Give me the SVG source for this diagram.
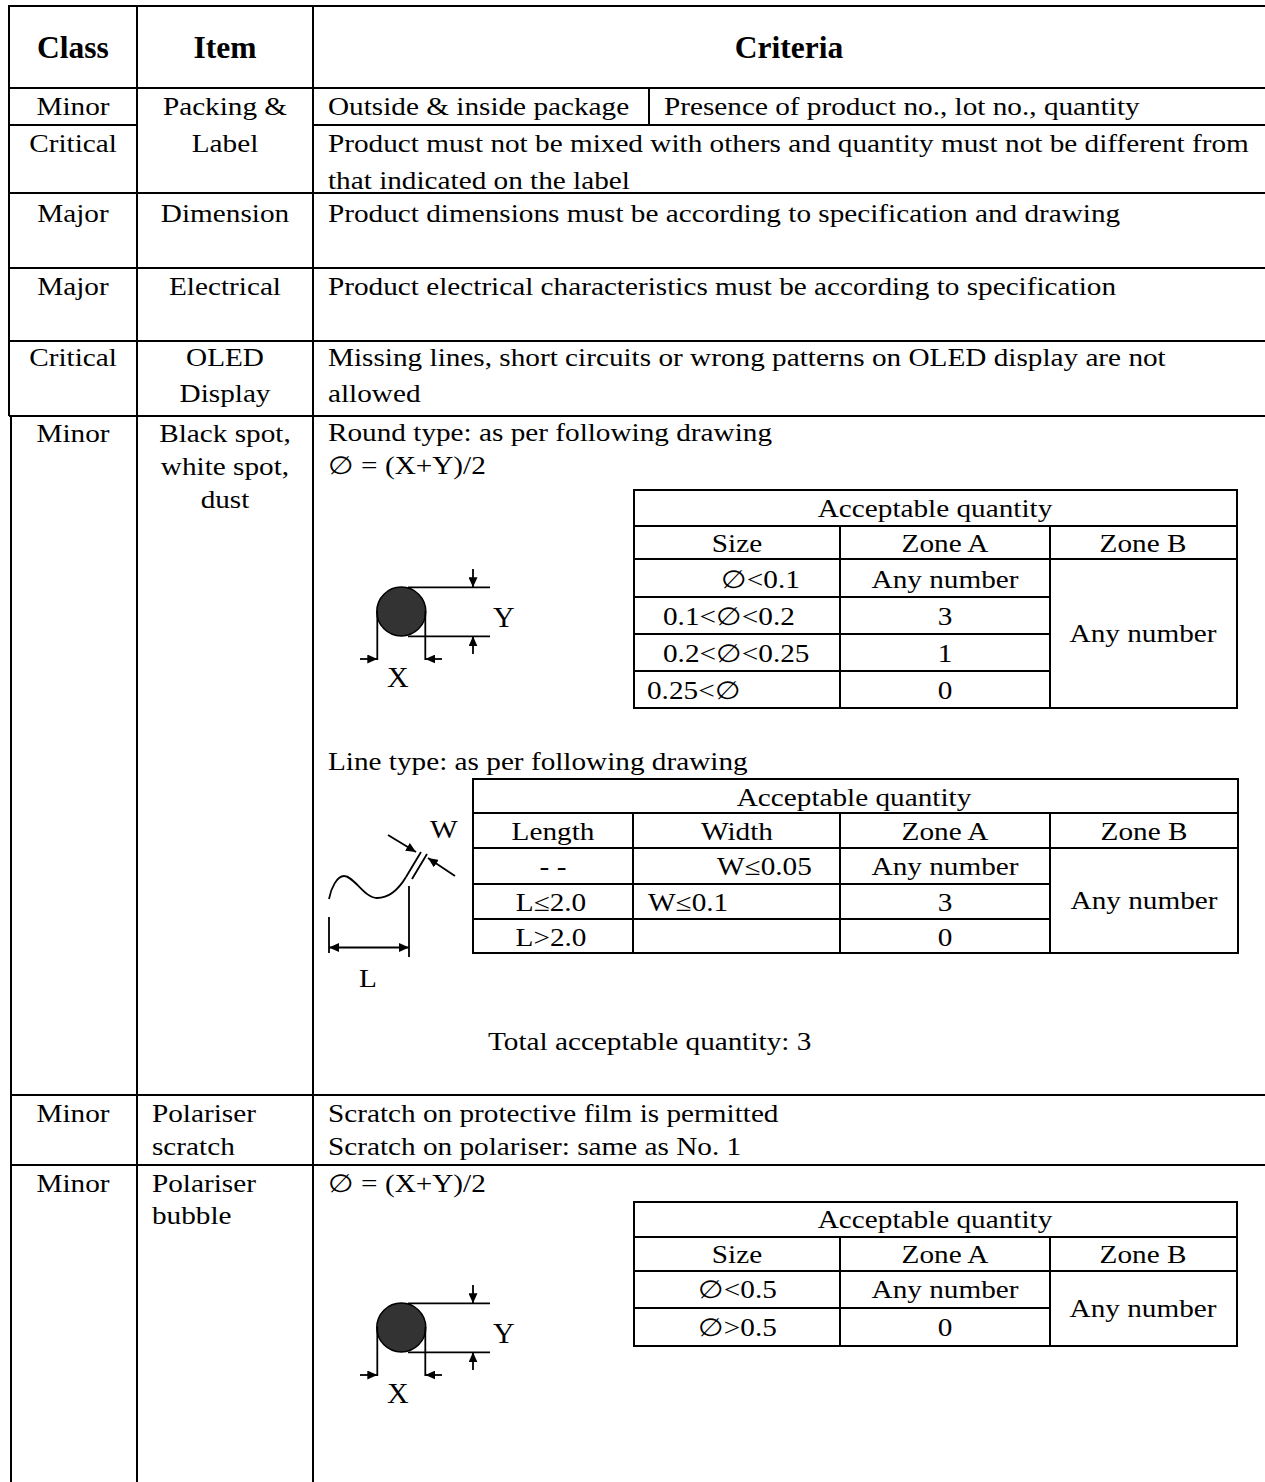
<svg xmlns="http://www.w3.org/2000/svg" width="1265" height="1482" viewBox="0 0 1265 1482">
<style>
.g{stroke:#000;stroke-width:2;fill:none}
.d{stroke:#000;stroke-width:1.8;fill:none}
.t{font-family:"Liberation Serif","Times New Roman",serif;font-size:25px;fill:#000}
.m{text-anchor:middle}
.h{font-family:"Liberation Serif","Times New Roman",serif;font-size:31.5px;font-weight:bold;fill:#000;text-anchor:middle}
.xy{font-family:"Liberation Serif","Times New Roman",serif;font-size:30px;fill:#000}
.dot{fill:#333;stroke:#000;stroke-width:1.5}
</style>
<defs>
<marker id="ah" markerUnits="userSpaceOnUse" markerWidth="12" markerHeight="9" refX="10" refY="4.5" orient="auto-start-reverse">
<path d="M0,0 L10,4.5 L0,9 Z" fill="#000"/>
</marker>
</defs>
<rect width="1265" height="1482" fill="#fff"/>

<g id="grid" class="g">
<path d="M9,6 H1265 M9,88 H1265 M9,125 H137 M313,125 H1265 M9,193 H1265 M9,268 H1265 M9,341 H1265 M9,416 H1265 M11,1095 H1265 M11,1165 H1265"/>
<path d="M9,5 V416 M11,416 V1482 M137,6 V1482 M313,6 V1482 M649,88 V125"/>
</g>

<g id="header">
<text class="h" x="73" y="58">Class</text>
<text class="h" x="225" y="58">Item</text>
<text class="h" x="789" y="58">Criteria</text>
</g>

<g id="row-packing">
<text class="t m" transform="translate(73,115) scale(1.17,1)">Minor</text>
<text class="t m" transform="translate(73,152) scale(1.17,1)">Critical</text>
<text class="t m" transform="translate(225,115) scale(1.17,1)">Packing &amp;</text>
<text class="t m" transform="translate(225,152) scale(1.17,1)">Label</text>
<text class="t" transform="translate(328,115) scale(1.17,1)">Outside &amp; inside package</text>
<text class="t" transform="translate(664,115) scale(1.17,1)">Presence of product no., lot no., quantity</text>
<text class="t" transform="translate(328,152) scale(1.17,1)">Product must not be mixed with others and quantity must not be different from</text>
<text class="t" transform="translate(328,189) scale(1.17,1)">that indicated on the label</text>
</g>

<g id="row-dimension">
<text class="t m" transform="translate(73,222) scale(1.17,1)">Major</text>
<text class="t m" transform="translate(225,222) scale(1.17,1)">Dimension</text>
<text class="t" transform="translate(328,222) scale(1.17,1)">Product dimensions must be according to specification and drawing</text>
</g>

<g id="row-electrical">
<text class="t m" transform="translate(73,295) scale(1.17,1)">Major</text>
<text class="t m" transform="translate(225,295) scale(1.17,1)">Electrical</text>
<text class="t" transform="translate(328,295) scale(1.17,1)">Product electrical characteristics must be according to specification</text>
</g>

<g id="row-oled">
<text class="t m" transform="translate(73,366) scale(1.17,1)">Critical</text>
<text class="t m" transform="translate(225,366) scale(1.17,1)">OLED</text>
<text class="t m" transform="translate(225,402) scale(1.17,1)">Display</text>
<text class="t" transform="translate(328,366) scale(1.17,1)">Missing lines, short circuits or wrong patterns on OLED display are not</text>
<text class="t" transform="translate(328,402) scale(1.17,1)">allowed</text>
</g>

<g id="row-spot">
<text class="t m" transform="translate(73,442) scale(1.17,1)">Minor</text>
<text class="t m" transform="translate(225,442) scale(1.17,1)">Black spot,</text>
<text class="t m" transform="translate(225,475) scale(1.17,1)">white spot,</text>
<text class="t m" transform="translate(225,508) scale(1.17,1)">dust</text>
<text class="t" transform="translate(328,441) scale(1.17,1)">Round type: as per following drawing</text>
<text class="t" transform="translate(328,474) scale(1.17,1)">∅ = (X+Y)/2</text>
<text class="t" transform="translate(328,770) scale(1.17,1)">Line type: as per following drawing</text>
<text class="t" transform="translate(488,1050) scale(1.17,1)">Total acceptable quantity: 3</text>
</g>

<g id="table-round">
<path class="g" d="M634,490 H1237 V708 H634 Z M634,526 H1237 M634,559 H1237 M634,597 H1050 M634,634 H1050 M634,671 H1050 M840,526 V708 M1050,526 V708"/>
<text class="t m" transform="translate(935,517) scale(1.17,1)">Acceptable quantity</text>
<text class="t m" transform="translate(737,552) scale(1.17,1)">Size</text>
<text class="t m" transform="translate(945,552) scale(1.17,1)">Zone A</text>
<text class="t m" transform="translate(1143,552) scale(1.17,1)">Zone B</text>
<text class="t" transform="translate(721,588) scale(1.17,1)">∅&lt;0.1</text>
<text class="t m" transform="translate(945,588) scale(1.17,1)">Any number</text>
<text class="t" transform="translate(663,625) scale(1.17,1)">0.1&lt;∅&lt;0.2</text>
<text class="t m" transform="translate(945,625) scale(1.17,1)">3</text>
<text class="t" transform="translate(663,662) scale(1.17,1)">0.2&lt;∅&lt;0.25</text>
<text class="t m" transform="translate(945,662) scale(1.17,1)">1</text>
<text class="t" transform="translate(647,699) scale(1.17,1)">0.25&lt;∅</text>
<text class="t m" transform="translate(945,699) scale(1.17,1)">0</text>
<text class="t m" transform="translate(1143,642) scale(1.17,1)">Any number</text>
</g>

<g id="drawing-round">
<circle class="dot" cx="401.3" cy="611.5" r="24.5"/>
<path class="d" d="M408,587.3 H490 M408,636.3 H490 M377.3,611 V660 M425.3,611 V660"/>
<text class="xy" x="493" y="627">Y</text>
<text class="xy" x="387" y="687">X</text>
</g>

<g id="table-line">
<path class="g" d="M473,779 H1238 V953 H473 Z M473,813 H1238 M473,848 H1238 M473,884 H1050 M473,919 H1050 M633,813 V953 M840,813 V953 M1050,813 V953"/>
<text class="t m" transform="translate(854,806) scale(1.17,1)">Acceptable quantity</text>
<text class="t m" transform="translate(553,840) scale(1.17,1)">Length</text>
<text class="t m" transform="translate(737,840) scale(1.17,1)">Width</text>
<text class="t m" transform="translate(945,840) scale(1.17,1)">Zone A</text>
<text class="t m" transform="translate(1144,840) scale(1.17,1)">Zone B</text>
<text class="t m" transform="translate(553,875) scale(1.17,1)">- -</text>
<text class="t" transform="translate(717,875) scale(1.17,1)">W≤0.05</text>
<text class="t m" transform="translate(945,875) scale(1.17,1)">Any number</text>
<text class="t m" transform="translate(551,911) scale(1.17,1)">L≤2.0</text>
<text class="t" transform="translate(648,911) scale(1.17,1)">W≤0.1</text>
<text class="t m" transform="translate(945,911) scale(1.17,1)">3</text>
<text class="t m" transform="translate(551,946) scale(1.17,1)">L&gt;2.0</text>
<text class="t m" transform="translate(945,946) scale(1.17,1)">0</text>
<text class="t m" transform="translate(1144,909) scale(1.17,1)">Any number</text>
</g>

<g id="drawing-line">
<path class="d" d="M329,899 C331,888 337,876 344,876 C354,876 364,898 377,898 C390,898 400,887 406,877"/>
<path class="d" d="M406,877 L421,852 M412,879 L427,854 M329,917 V953 M409,886 V957"/>
<text class="t" transform="translate(430,838) scale(1.17,1)">W</text>
<text class="t" transform="translate(359,987) scale(1.17,1)">L</text>
</g>

<g id="row-scratch">
<text class="t m" transform="translate(73,1122) scale(1.17,1)">Minor</text>
<text class="t" transform="translate(152,1122) scale(1.17,1)">Polariser</text>
<text class="t" transform="translate(152,1155) scale(1.17,1)">scratch</text>
<text class="t" transform="translate(328,1122) scale(1.17,1)">Scratch on protective film is permitted</text>
<text class="t" transform="translate(328,1155) scale(1.17,1)">Scratch on polariser: same as No. 1</text>
</g>

<g id="row-bubble">
<text class="t m" transform="translate(73,1192) scale(1.17,1)">Minor</text>
<text class="t" transform="translate(152,1192) scale(1.17,1)">Polariser</text>
<text class="t" transform="translate(152,1224) scale(1.17,1)">bubble</text>
<text class="t" transform="translate(328,1192) scale(1.17,1)">∅ = (X+Y)/2</text>
</g>

<g id="table-bubble">
<path class="g" d="M634,1202 H1237 V1346 H634 Z M634,1237 H1237 M634,1271 H1237 M634,1308 H1050 M840,1237 V1346 M1050,1237 V1346"/>
<text class="t m" transform="translate(935,1228) scale(1.17,1)">Acceptable quantity</text>
<text class="t m" transform="translate(737,1263) scale(1.17,1)">Size</text>
<text class="t m" transform="translate(945,1263) scale(1.17,1)">Zone A</text>
<text class="t m" transform="translate(1143,1263) scale(1.17,1)">Zone B</text>
<text class="t" transform="translate(698,1298) scale(1.17,1)">∅&lt;0.5</text>
<text class="t m" transform="translate(945,1298) scale(1.17,1)">Any number</text>
<text class="t" transform="translate(698,1336) scale(1.17,1)">∅&gt;0.5</text>
<text class="t m" transform="translate(945,1336) scale(1.17,1)">0</text>
<text class="t m" transform="translate(1143,1317) scale(1.17,1)">Any number</text>
</g>

<g id="drawing-bubble">
<circle class="dot" cx="401.3" cy="1327.5" r="24.5"/>
<path class="d" d="M408,1303.3 H490 M408,1352.3 H490 M377.3,1327 V1376 M425.3,1327 V1376"/>
<text class="xy" x="493" y="1343">Y</text>
<text class="xy" x="387" y="1403">X</text>
</g>

<g id="connectors" class="d">
<line x1="473" y1="569" x2="473" y2="587.3" marker-end="url(#ah)"/>
<line x1="473" y1="654" x2="473" y2="636.3" marker-end="url(#ah)"/>
<line x1="360" y1="659" x2="377.3" y2="659" marker-end="url(#ah)"/>
<line x1="442" y1="659" x2="425.3" y2="659" marker-end="url(#ah)"/>
<line x1="388" y1="835" x2="416" y2="852" marker-end="url(#ah)"/>
<line x1="455" y1="876" x2="428" y2="858" marker-end="url(#ah)"/>
<line x1="329" y1="947.5" x2="409" y2="947.5" marker-start="url(#ah)" marker-end="url(#ah)"/>
<line x1="473" y1="1285" x2="473" y2="1303.3" marker-end="url(#ah)"/>
<line x1="473" y1="1370" x2="473" y2="1352.3" marker-end="url(#ah)"/>
<line x1="360" y1="1375" x2="377.3" y2="1375" marker-end="url(#ah)"/>
<line x1="442" y1="1375" x2="425.3" y2="1375" marker-end="url(#ah)"/>
</g>
</svg>
